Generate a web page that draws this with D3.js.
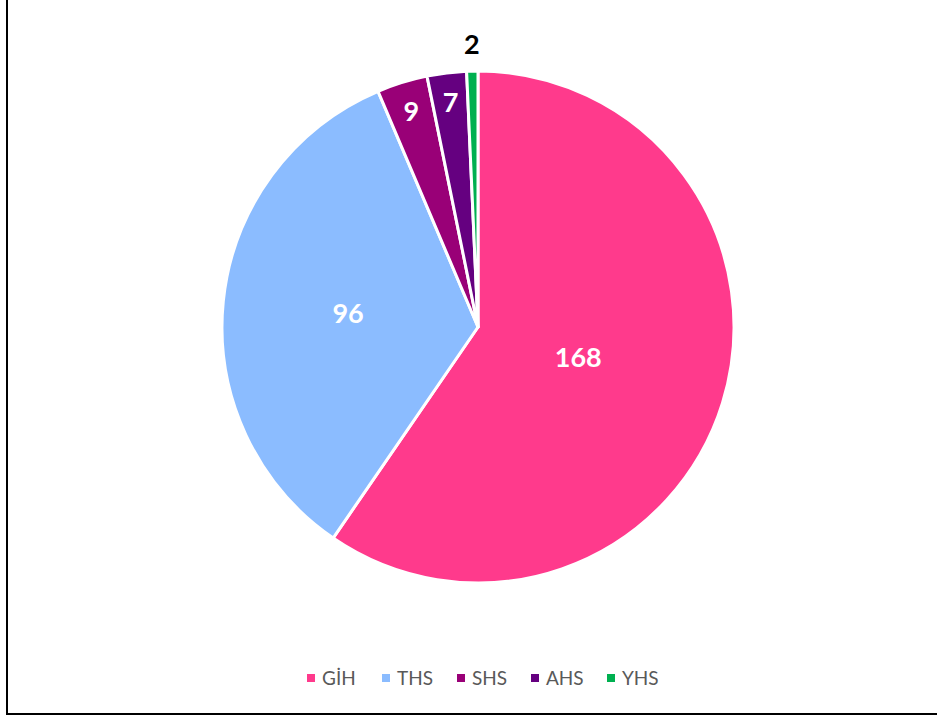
<!DOCTYPE html>
<html><head><meta charset="utf-8">
<script src="https://cdn.jsdelivr.net/npm/d3@7"></script>
<style>body{margin:0;background:#fff}svg{display:block}</style>
</head><body>
<svg id="chart" width="937" height="718"></svg>
<script>
const categories = ["GİH", "THS", "SHS", "AHS", "YHS"];
const values = [168, 96, 9, 7, 2];
const colors = ["#FF3A8C", "#8BBCFF", "#990077", "#650080", "#00B050"];

const svg = d3.select("#chart");
// frame
svg.append("rect").attr("x", 7).attr("y", -10).attr("width", 960).attr("height", 724)
  .attr("fill", "none").attr("stroke", "#000").attr("stroke-width", 2);

const cx = 478, cy = 327, R = 256;
const g = svg.append("g").attr("transform", `translate(${cx},${cy})`);
const pie = d3.pie().sort(null).value(d => d.v);
const data = pie(categories.map((c, i) => ({c, v: values[i], col: colors[i]})));
const arc = d3.arc().innerRadius(0).outerRadius(R);
g.selectAll("path").data(data).join("path")
  .attr("d", arc).attr("fill", d => d.data.col)
  .attr("stroke", "#fff").attr("stroke-width", 3).attr("stroke-linejoin", "round");

const total = d3.sum(values);
function labelR(d) {
  const frac = d.data.v / total;
  if (frac > 0.5) return 0.41 * R;
  if (frac > 0.1) return 0.51 * R;
  if (frac > 0.02) return 0.88 * R;
  return 1.1 * R;
}
g.selectAll("text.lbl").data(data).join("text")
  .attr("class", "lbl")
  .attr("transform", d => {
    const a = (d.startAngle + d.endAngle) / 2, r = labelR(d);
    return `translate(${r * Math.sin(a)},${-r * Math.cos(a)})`;
  })
  .attr("text-anchor", "middle").attr("dy", "0.33em")
  .attr("font-family", "Lato, 'Open Sans', sans-serif").attr("font-weight", "bold")
  .attr("font-size", 27)
  .attr("fill", d => d.data.v / total > 0.02 ? "#fff" : "#000")
  .text(d => d.data.v);

// legend
const legendX = [307, 382, 457, 531, 607];
const lg = svg.append("g").attr("transform", "translate(0,678)");
const items = lg.selectAll("g").data(categories).join("g")
  .attr("transform", (d, i) => `translate(${legendX[i]},0)`);
items.append("rect").attr("x", 0).attr("y", -4).attr("width", 8).attr("height", 8)
  .attr("fill", (d, i) => colors[i]);
items.append("text").attr("x", 15).attr("dy", "0.35em")
  .attr("font-family", "Lato, 'Open Sans', sans-serif").attr("font-size", 19)
  .attr("fill", "#595959").text(d => d);
</script>
</body></html>
